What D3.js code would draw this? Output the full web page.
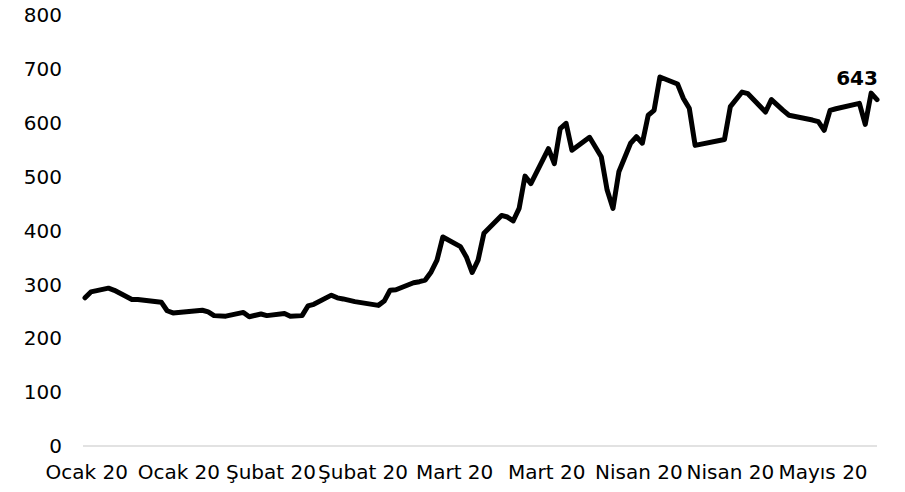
<!DOCTYPE html>
<html>
<head>
<meta charset="utf-8">
<script src="https://cdn.jsdelivr.net/npm/d3@7"></script>
<style>
  body { margin: 0; background: #fff; }
  text { font-family: "DejaVu Sans", sans-serif; fill: #000; }
</style>
</head>
<body>
<svg width="905" height="492"></svg>
<script>
const days = [0, 1, 4, 5, 8, 9, 13, 14, 15, 20, 21, 22, 24, 27, 28, 30, 31, 34, 35, 37,
  38, 39, 42, 43, 44, 46, 50, 51, 52, 53, 56, 57, 58, 59, 60, 61, 64, 65, 66, 67,
  68, 71, 72, 73, 74, 75, 76, 79, 80, 81, 82, 83, 86, 88, 89, 90, 91, 93, 94, 95,
  96, 97, 98, 101, 102, 103, 104, 109, 110, 112, 113, 116, 117, 119, 120, 124, 125, 126, 127, 128,
  132, 133, 134, 135];
const values = [275, 286, 293, 289, 272, 272, 267, 251, 247, 252, 249, 242, 241, 248, 240, 245, 242, 246, 241, 242,
  260, 263, 280, 275, 273, 268, 261, 269, 289, 290, 303, 305, 308, 323, 345, 388, 370, 351, 322, 345,
  395, 428, 425, 418, 441, 501, 487, 552, 524, 589, 599, 549, 573, 537, 475, 441, 509, 562, 574, 562,
  614, 623, 685, 672, 645, 627, 558, 569, 630, 657, 654, 620, 643, 623, 614, 605, 602, 586, 623, 626,
  636, 597, 655, 643];
const tickDays = [0.3, 16, 31.7, 47.4, 63, 78.7, 94.4, 110, 125.8];
const tickLabels = ["Ocak 20", "Ocak 20", "Şubat 20", "Şubat 20", "Mart 20", "Mart 20", "Nisan 20", "Nisan 20", "Mayıs 20"];
const yTicks = [0, 100, 200, 300, 400, 500, 600, 700, 800];
const lastLabel = "643";

const svg = d3.select("svg");

const x = d3.scaleLinear().domain([0, 135]).range([85, 877]);
const y = d3.scaleLinear().domain([0, 800]).range([446, 15]);

// baseline
svg.append("line")
  .attr("x1", x(0) - 2).attr("x2", x(135))
  .attr("y1", y(0)).attr("y2", y(0))
  .attr("stroke", "#d9d9d9")
  .attr("stroke-width", 1.5);

// y labels
svg.selectAll(".ylab")
  .data(yTicks)
  .enter()
  .append("text")
  .attr("class", "ylab")
  .attr("x", 62)
  .attr("y", d => y(d))
  .attr("dy", "0.36em")
  .attr("text-anchor", "end")
  .style("font-size", "20px")
  .text(d => d);

// x labels
svg.selectAll(".xlab")
  .data(tickDays)
  .enter()
  .append("text")
  .attr("class", "xlab")
  .attr("x", d => x(d))
  .attr("y", 479)
  .attr("text-anchor", "middle")
  .style("font-size", "20px")
  .text((d, i) => tickLabels[i]);

const pts = days.map((d, i) => [d, values[i]]);

svg.append("path")
  .datum(pts)
  .attr("fill", "none")
  .attr("stroke", "#000")
  .attr("stroke-width", 5)
  .attr("stroke-linejoin", "round")
  .attr("stroke-linecap", "round")
  .attr("d", d3.line().x(d => x(d[0])).y(d => y(d[1])));

const last = pts[pts.length - 1];
svg.append("text")
  .attr("x", x(last[0]) - 20)
  .attr("y", y(last[1]) - 15)
  .attr("text-anchor", "middle")
  .style("font-size", "20px")
  .style("font-weight", "bold")
  .text(lastLabel);
</script>
</body>
</html>
